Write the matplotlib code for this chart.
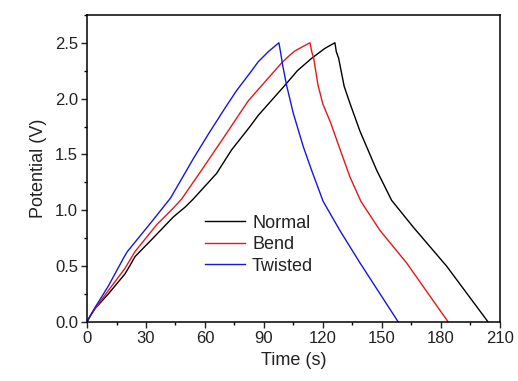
import matplotlib
matplotlib.use("Agg")
import matplotlib.pyplot as plt
from matplotlib.ticker import MultipleLocator, FormatStrFormatter

plt.rcParams['font.family'] = ['Liberation Sans', 'DejaVu Sans']

# Normal
normal_t = [0, 1.5, 4.1, 10.8, 19.3, 22, 24.4, 33, 43.9, 50, 54, 65.9, 73.5, 82.9, 87.1, 100.7, 107, 114.2,
            121, 126.1, 126.8, 128, 130.8, 133.7, 138.8, 147.3, 154.9, 165.9, 182.9, 204]
normal_v = [0, 0.05, 0.12, 0.25, 0.43, 0.51, 0.585, 0.74, 0.94, 1.03, 1.10, 1.33, 1.54, 1.75, 1.85, 2.12, 2.25, 2.36,
            2.45, 2.50, 2.42, 2.36, 2.11, 1.96, 1.71, 1.36, 1.09, 0.85, 0.50, 0.0]

# Bend
bend_t = [0, 1.5, 4.1, 10.8, 19.3, 21, 24.4, 35.4, 43.9, 48.1, 58.3, 71, 74.4, 82, 93, 99, 103.2, 106, 113.4,
          114.3, 115.3, 117.5, 120, 124, 128, 133.7, 139.3, 149, 162.5, 183.7]
bend_v = [0, 0.05, 0.12, 0.28, 0.48, 0.53, 0.63, 0.87, 1.02, 1.10, 1.36, 1.69, 1.78, 1.98, 2.20, 2.32, 2.39, 2.43, 2.50,
          2.42, 2.36, 2.12, 1.95, 1.78, 1.58, 1.30, 1.08, 0.82, 0.53, 0.0]

# Twisted
twisted_t = [0, 1.5, 4.1, 10.8, 18.5, 20.5, 33, 42.5, 54, 62, 70, 76, 82.9, 87.1, 92.2, 97.6,
             98.5, 99.5, 101.5, 104.9, 110, 114.2, 120.1, 128.6, 138.8, 158.3]
twisted_v = [0, 0.05, 0.13, 0.32, 0.57, 0.63, 0.90, 1.11, 1.46, 1.69, 1.91, 2.07, 2.23, 2.33, 2.42, 2.50,
             2.41, 2.30, 2.12, 1.87, 1.57, 1.36, 1.08, 0.82, 0.53, 0.0]

labels = ['Normal', 'Bend', 'Twisted']
colors = ['#000000', '#e8161b', '#1616e0']

fig = plt.figure(figsize=(5.18, 3.81), dpi=100)
ax = fig.add_axes([0.168, 0.155, 0.797, 0.806])

for t, v, lab, c in zip([normal_t, bend_t, twisted_t], [normal_v, bend_v, twisted_v], labels, colors):
    ax.plot(t, v, color=c, lw=1.0, label=lab)

ax.set_xlim(0, 210)
ax.set_ylim(0, 2.75)
ax.xaxis.set_major_locator(MultipleLocator(30))
ax.xaxis.set_minor_locator(MultipleLocator(15))
ax.yaxis.set_major_locator(MultipleLocator(0.5))
ax.yaxis.set_minor_locator(MultipleLocator(0.25))
ax.yaxis.set_major_formatter(FormatStrFormatter('%.1f'))
ax.tick_params(which='major', direction='out', length=4, width=1, labelsize=12, colors='#222222', pad=2.5)
ax.tick_params(which='minor', direction='out', length=2.5, width=1)
for s in ax.spines.values():
    s.set_linewidth(1.1)

ax.set_xlabel('Time (s)', fontsize=13, color='#222222', labelpad=4)
ax.set_ylabel('Potential (V)', fontsize=13, color='#222222', labelpad=6)

leg = ax.legend(loc='upper left', bbox_to_anchor=(0.286, 0.349), frameon=False, fontsize=13,
                handlelength=2.2, handletextpad=0.4, labelspacing=0.25, borderpad=0, borderaxespad=0)
for txt in leg.get_texts():
    txt.set_color('#222222')

fig.savefig('out.png', dpi=100)
